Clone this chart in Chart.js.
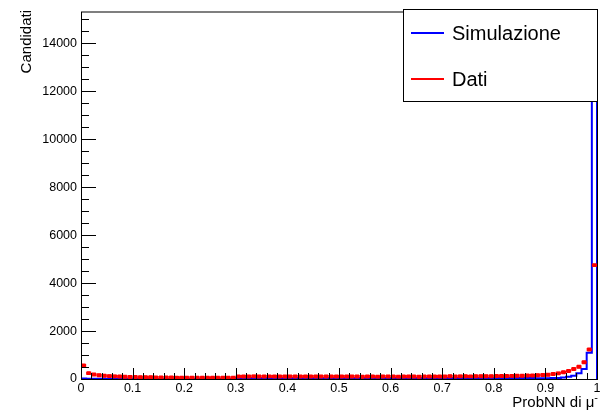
<!DOCTYPE html>
<html>
<head>
<meta charset="utf-8">
<script src="https://cdn.jsdelivr.net/npm/chart.js@4"></script>
<style>
  html, body { margin: 0; padding: 0; background: #fff; }
  #wrap { width: 614px; height: 414px; }
</style>
</head>
<body>
<div id="wrap"><canvas id="c" width="614" height="414"></canvas></div>
<script>
// Histogram binning: 100 bins over [0, 1]
const binCount = 100;
const binWidth = 0.01;

// Simulated candidates per bin
const simCounts = [
  20, 12, 10, 9, 8, 8, 7, 7, 6, 6,
  6, 6, 6, 5, 5, 5, 5, 5, 5, 5,
  5, 5, 5, 5, 5, 5, 5, 5, 5, 5,
  42, 44, 43, 45, 44, 42, 46, 44, 43, 45,
  44, 43, 45, 44, 42, 44, 43, 45, 44, 43,
  42, 44, 43, 41, 43, 44, 42, 43, 41, 42,
  41, 43, 42, 40, 42, 41, 43, 42, 40, 41,
  40, 42, 41, 39, 41, 40, 40, 39, 41, 40,
  39, 40, 38, 39, 38, 37, 38, 37, 36, 36,
  35, 38, 45, 60, 95, 140, 235, 414, 1090, 14600
];

// Measured candidates per bin
const dataCounts = [
  560, 245, 185, 155, 135, 120, 110, 100, 92, 85,
  80, 76, 72, 70, 66, 64, 62, 60, 58, 57,
  56, 55, 54, 53, 52, 52, 51, 50, 50, 50,
  105, 108, 104, 110, 106, 103, 109, 105, 102, 107,
  104, 106, 101, 105, 108, 103, 100, 104, 106, 102,
  103, 100, 105, 101, 98, 104, 102, 99, 103, 100,
  101, 99, 104, 100, 102, 98, 103, 105, 101, 104,
  108, 112, 107, 110, 114, 109, 112, 116, 113, 118,
  122, 126, 124, 130, 135, 138, 145, 150, 158, 165,
  180, 205, 235, 280, 330, 414, 510, 700, 1230, 4750
];

// Axis ticks and labels
const xTicks = [0, 0.1, 0.2, 0.3, 0.4, 0.5, 0.6, 0.7, 0.8, 0.9, 1];
const yTicks = [0, 2000, 4000, 6000, 8000, 10000, 12000, 14000];
const xMinorStep = 0.02;
const yMinorStep = 500;
const yMax = 15330;
const seriesNames = ['Simulazione', 'Dati'];
const seriesColors = ['#0000ff', '#ff0000'];
const xTitle = 'ProbNN di \u03bc';
const yTitle = 'Candidati';

const FONT = '"Liberation Sans", Arial, Helvetica, sans-serif';

// Step outline for the simulated histogram
const simOutline = [];
simCounts.forEach((v, i) => simOutline.push({ x: i * binWidth, y: v }));
simOutline.push({ x: binCount * binWidth, y: simCounts[binCount - 1] });
simOutline.push({ x: binCount * binWidth, y: 0 });

// Bin-width bars for the measured points (the joins between bins are hidden)
const dataBars = [];
dataCounts.forEach((v, i) => {
  dataBars.push({ x: i * binWidth, y: v });
  dataBars.push({ x: (i + 1) * binWidth, y: v });
});
const dataMarkers = dataCounts.map((v, i) => ({ x: (i + 0.5) * binWidth, y: v }));

// Frame, inward ticks, axis titles and the legend box
const decorations = {
  id: 'decorations',
  afterDatasetsDraw(chart) {
    const { ctx, chartArea: a, scales: { x, y } } = chart;
    ctx.save();
    ctx.strokeStyle = '#000';
    ctx.lineWidth = 1;
    ctx.beginPath();
    // x ticks
    for (let v = 0; v <= 1.0001; v += xMinorStep) {
      const px = Math.round(x.getPixelForValue(v)) + 0.5;
      ctx.moveTo(px, a.bottom);
      ctx.lineTo(px, a.bottom - 6);
    }
    xTicks.forEach(v => {
      const px = Math.round(x.getPixelForValue(v)) + 0.5;
      ctx.moveTo(px, a.bottom);
      ctx.lineTo(px, a.bottom - 11);
    });
    // y ticks
    for (let v = 0; v <= yMax; v += yMinorStep) {
      const py = Math.round(y.getPixelForValue(v)) + 0.5;
      ctx.moveTo(a.left, py);
      ctx.lineTo(a.left + 8, py);
    }
    yTicks.forEach(v => {
      const py = Math.round(y.getPixelForValue(v)) + 0.5;
      ctx.moveTo(a.left, py);
      ctx.lineTo(a.left + 15, py);
    });
    ctx.stroke();
    // frame
    ctx.strokeRect(a.left + 0.5, a.top + 0.5, a.right - a.left, a.bottom - a.top);

    // axis titles
    ctx.fillStyle = '#000';
    ctx.textBaseline = 'alphabetic';
    ctx.textAlign = 'right';
    ctx.font = '11px ' + FONT;
    const supW = ctx.measureText('-').width;
    ctx.fillText('-', a.right + 1, 401);
    ctx.font = '15px ' + FONT;
    ctx.fillText(xTitle, a.right + 1 - supW, 407);

    ctx.save();
    ctx.translate(31, 10);
    ctx.rotate(-Math.PI / 2);
    ctx.textAlign = 'right';
    ctx.textBaseline = 'alphabetic';
    ctx.fillText(yTitle, 0, 0);
    ctx.restore();

    // legend
    const L = { left: 403, top: 9, right: 598, bottom: 101 };
    ctx.fillStyle = '#fff';
    ctx.fillRect(L.left, L.top, L.right - L.left, L.bottom - L.top);
    ctx.strokeStyle = '#000';
    ctx.strokeRect(L.left + 0.5, L.top + 0.5, L.right - L.left - 1, L.bottom - L.top);
    const rows = [33, 79];
    ctx.font = '20px ' + FONT;
    ctx.textAlign = 'left';
    ctx.textBaseline = 'alphabetic';
    seriesNames.forEach((name, i) => {
      ctx.strokeStyle = seriesColors[i];
      ctx.lineWidth = 2;
      ctx.beginPath();
      ctx.moveTo(411, rows[i]);
      ctx.lineTo(444, rows[i]);
      ctx.stroke();
      ctx.fillStyle = '#000';
      ctx.fillText(name, 452, rows[i] + 7);
    });
    ctx.restore();
  }
};

new Chart(document.getElementById('c'), {
  type: 'line',
  data: {
    datasets: [
      {
        label: seriesNames[1],
        data: dataBars,
        borderColor: seriesColors[1],
        borderWidth: 3,
        pointRadius: 0,
        fill: false,
        segment: {
          borderColor: c => (c.p0.parsed.x === c.p1.parsed.x ? 'rgba(0,0,0,0)' : seriesColors[1])
        },
        order: 1
      },
      {
        label: seriesNames[1] + ' markers',
        type: 'scatter',
        data: dataMarkers,
        pointStyle: 'rect',
        pointRadius: 2.8,
        backgroundColor: seriesColors[1],
        borderColor: seriesColors[1],
        borderWidth: 0,
        order: 0
      },
      {
        label: seriesNames[0],
        data: simOutline,
        borderColor: seriesColors[0],
        borderWidth: 2,
        pointRadius: 0,
        stepped: 'before',
        fill: false,
        order: 2
      }
    ]
  },
  options: {
    responsive: false,
    animation: false,
    events: [],
    layout: { padding: { top: 9, right: 17, left: 0, bottom: 0 } },
    plugins: { legend: { display: false }, tooltip: { enabled: false } },
    scales: {
      x: {
        type: 'linear',
        min: 0,
        max: 1,
        grid: { display: false, drawTicks: false },
        border: { display: false },
        afterFit(s) { s.height = 35; },
        afterBuildTicks(s) { s.ticks = xTicks.map(v => ({ value: v })); },
        ticks: {
          padding: 2,
          color: '#000',
          maxRotation: 0,
          autoSkip: false,
          font: { family: FONT, size: 12.5 },
          callback: v => String(+Number(v).toFixed(1))
        }
      },
      y: {
        type: 'linear',
        min: 0,
        max: yMax,
        grid: { display: false, drawTicks: false },
        border: { display: false },
        afterFit(s) { s.width = 81; },
        afterBuildTicks(s) { s.ticks = yTicks.map(v => ({ value: v })); },
        ticks: {
          padding: 4,
          color: '#000',
          autoSkip: false,
          font: { family: FONT, size: 12.5 },
          callback: v => String(v)
        }
      }
    }
  },
  plugins: [decorations]
});
</script>
</body>
</html>
